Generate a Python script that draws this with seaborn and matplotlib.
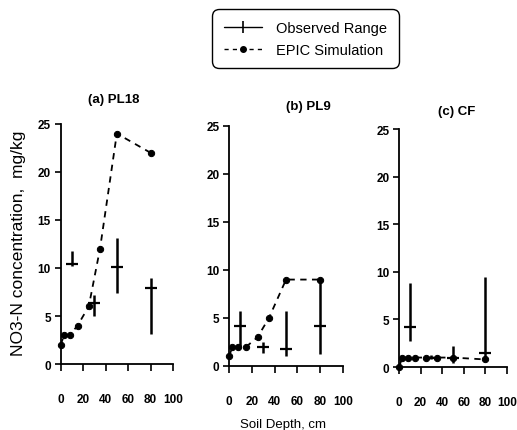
"""
NO3-N concentration vs soil depth, observed range and EPIC simulation
"""

import pandas as pd
import matplotlib
matplotlib.use("Agg")
import matplotlib.pyplot as plt
from matplotlib.lines import Line2D
import seaborn as sns

sns.set_theme(style="ticks")
plt.rcParams["font.family"] = ["Liberation Sans", "DejaVu Sans"]
plt.rcParams["text.color"] = "black"

panels = ["(a) PL18", "(b) PL9", "(c) CF"]

# EPIC simulation, depth (cm) and concentration (mg/kg)
sim_depth = [0, 3, 8, 15, 25, 35, 50, 80]
sim_pl18 = [2, 3, 3, 4, 6, 12, 24, 22]
sim_pl9 = [1, 2, 2, 2, 3, 5, 9, 9]
sim_cf = [0, 1, 1, 1, 1, 1, 1, 0.8]

# observed ranges
obs_depth = [10, 30, 50, 80]
obs_pl18_mean = [10.4, 6.4, 10.1, 7.9]
obs_pl18_low = [10.2, 5.0, 7.4, 3.1]
obs_pl18_high = [11.8, 7.2, 13.1, 9.0]
obs_pl9_mean = [4.2, 2.0, 1.8, 4.2]
obs_pl9_low = [2.0, 1.4, 1.0, 1.3]
obs_pl9_high = [5.7, 2.5, 5.7, 9.0]
obs_cf_mean = [4.2, 1.0, 1.0, 1.5]
obs_cf_low = [2.7, 0.8, 0.4, 0.7]
obs_cf_high = [8.8, 1.3, 2.2, 9.5]

sims = [sim_pl18, sim_pl9, sim_cf]
obs = [
    (obs_pl18_mean, obs_pl18_low, obs_pl18_high),
    (obs_pl9_mean, obs_pl9_low, obs_pl9_high),
    (obs_cf_mean, obs_cf_low, obs_cf_high),
]

# axes boxes in figure fraction [left, bottom, width, height]
boxes = [
    [0.1174, 0.1531, 0.2172, 0.557],
    [0.4430, 0.1485, 0.2205, 0.557],
    [0.7718, 0.1460, 0.2085, 0.552],
]
title_pos = [(0.220, 0.768), (0.596, 0.752), (0.884, 0.740)]

fig = plt.figure(figsize=(5.17, 4.31), dpi=100)

for i in range(3):
    ax = fig.add_axes(boxes[i])
    df = pd.DataFrame({"depth": sim_depth, "conc": sims[i]})
    sns.lineplot(
        data=df, x="depth", y="conc", ax=ax, color="black", linestyle=(0, (3.5, 3)),
        linewidth=1.3, marker="o", markersize=4.5, markeredgecolor="black",
        clip_on=False,
    )
    m, lo, hi = obs[i]
    yerr = [[a - b for a, b in zip(m, lo)], [c - a for a, c in zip(m, hi)]]
    ax.errorbar(
        obs_depth, m, yerr=yerr, fmt="_", color="black", ecolor="black",
        elinewidth=1.8, markersize=9, markeredgewidth=1.6, capsize=0, clip_on=False,
    )
    ax.set_xlim(0, 100)
    ax.set_ylim(0, 25)
    ax.set_xticks([0, 20, 40, 60, 80, 100])
    ax.set_yticks([0, 5, 10, 15, 20, 25])
    ax.set_xlabel("")
    ax.set_ylabel("")
    sns.despine(ax=ax)
    for s in ["left", "bottom"]:
        ax.spines[s].set_linewidth(1.3)
        ax.spines[s].set_color("black")
    ax.tick_params(axis="x", direction="out", length=5, width=1.2, pad=16,
                   labelsize=8.5, colors="black")
    ax.tick_params(axis="y", direction="out", length=4, width=1.2, pad=3,
                   labelsize=8.5, colors="black")
    for lab in ax.get_xticklabels() + ax.get_yticklabels():
        lab.set_fontweight("bold")
    fig.text(title_pos[i][0], title_pos[i][1], panels[i], ha="center", va="center",
             fontsize=9.5, fontweight="bold", color="black")

fig.text(0.036, 0.436, "NO3-N concentration,  mg/kg", rotation=90, ha="center",
         va="center", fontsize=12.5, color="black")
fig.text(0.547, 0.014, "Soil Depth, cm", ha="center", va="center", fontsize=9.5,
         color="black")

handles = [
    Line2D([0], [0], color="black", linewidth=1.0, marker="|", markersize=8,
           markeredgewidth=1.2),
    Line2D([0], [0], color="black", linewidth=1.0, linestyle=(0, (3, 3)),
           marker="o", markersize=4),
]
leg = fig.legend(
    handles, ["Observed Range", "EPIC Simulation"], loc="center",
    bbox_to_anchor=(0.591, 0.908), frameon=True, fancybox=True, fontsize=10.5,
    handlelength=2.6, handletextpad=1.0, borderpad=0.6, labelspacing=0.55,
)
leg.get_frame().set_edgecolor("black")
leg.get_frame().set_linewidth(1.0)
leg.get_frame().set_alpha(1)
leg.get_frame().set_boxstyle("round", pad=0.2, rounding_size=0.5)
for t in leg.get_texts():
    t.set_color("black")

fig.savefig("out.png", dpi=100)
